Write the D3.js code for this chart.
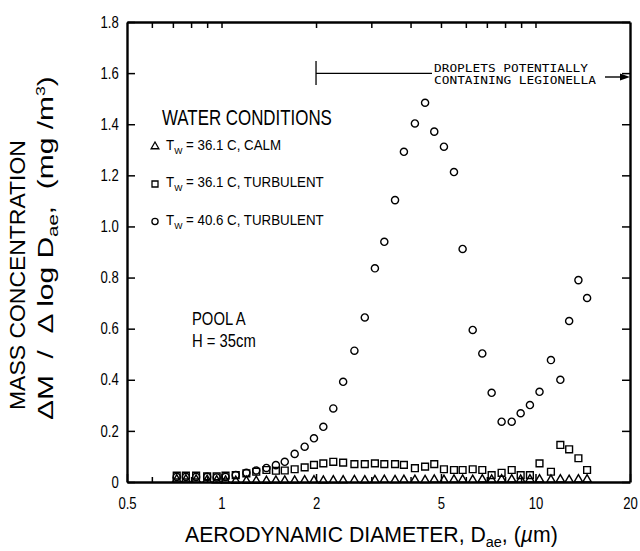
<!DOCTYPE html>
<html>
<head>
<meta charset="utf-8">
<script src="https://cdn.jsdelivr.net/npm/d3@7"></script>
<style>
body { margin: 0; background: #fff; }
svg { display: block; }
text { font-family: "Liberation Sans", Arial, sans-serif; fill: #000; }
.mono { font-family: "DejaVu Sans Mono", "Liberation Mono", monospace; }
</style>
</head>
<body>
<script>
// aerodynamic diameter of each impactor bin (um)
var diam = [0.72, 0.77, 0.83, 0.90, 0.965, 1.03, 1.11, 1.20, 1.29, 1.39, 1.49, 1.59, 1.71, 1.84,
  1.97, 2.11, 2.27, 2.44, 2.65, 2.86, 3.08, 3.30, 3.57, 3.81, 4.13, 4.45, 4.76, 5.11, 5.50, 5.86,
  6.31, 6.77, 7.25, 7.80, 8.40, 8.97, 9.60, 10.3, 11.2, 12.0, 12.8, 13.7, 14.6];

// Tw = 36.1 C, calm (triangles)
var calm361 = [0.010, 0.010, 0.009, 0.008, 0.006, 0.005, 0.004, 0.004, 0.004, 0.004, 0.005, 0.005, 0.005, 0.006,
  0.006, 0.005, 0.006, 0.006, 0.007, 0.006, 0.007, 0.008, 0.007, 0.008, 0.008, 0.007, 0.009, 0.008, 0.009, 0.009,
  0.008, 0.010, 0.009, 0.010, 0.010, 0.009, 0.010, 0.010, 0.009, 0.010, 0.008, 0.010, 0.010];

// Tw = 36.1 C, turbulent (squares)
var turb361 = [0.025, 0.025, 0.025, 0.022, 0.022, 0.025, 0.027, 0.034, 0.040, 0.047, 0.044, 0.045, 0.050, 0.057,
  0.067, 0.073, 0.079, 0.076, 0.070, 0.070, 0.073, 0.070, 0.070, 0.067, 0.054, 0.060, 0.070, 0.050, 0.047, 0.047,
  0.050, 0.047, 0.027, 0.036, 0.047, 0.027, 0.027, 0.073, 0.040, 0.145, 0.128, 0.093, 0.047];

// Tw = 40.6 C, turbulent (circles)
var turb406 = [0.020, 0.020, 0.020, 0.020, 0.018, 0.020, 0.027, 0.036, 0.045, 0.055, 0.066, 0.079, 0.110, 0.138,
  0.171, 0.216, 0.288, 0.392, 0.514, 0.644, 0.836, 0.940, 1.103, 1.292, 1.403, 1.484, 1.371, 1.312, 1.213, 0.912,
  0.595, 0.503, 0.349, 0.236, 0.236, 0.269, 0.301, 0.353, 0.477, 0.400, 0.630, 0.790, 0.720];

var yTicks = [0, 0.2, 0.4, 0.6, 0.8, 1.0, 1.2, 1.4, 1.6, 1.8];
var xTicks = [0.5, 1, 2, 5, 10, 20];
var xMinor = [0.6, 0.7, 0.8, 0.9, 3, 4, 6, 7, 8, 9];
var legendLabels = ["36.1 C, CALM", "36.1 C, TURBULENT", "40.6 C, TURBULENT"];

var width = 640, height = 551;
var NARROW = 0.8;

var svg = d3.select("body").append("svg")
    .attr("width", width)
    .attr("height", height);

svg.append("rect").attr("width", width).attr("height", height).attr("fill", "#fff");

var x = d3.scaleLog().domain([0.5, 20]).range([127, 630]);
var y = d3.scaleLinear().domain([0, 1.8]).range([482, 22]);

// squeeze a start-anchored text to a given width
function squeeze(sel, target) {
    var w = sel.node().getBBox().width;
    var k = target / w;
    var x0 = +sel.attr("x") || 0;
    sel.attr("transform", "translate(" + (x0 * (1 - k)) + ",0) scale(" + k + ",1)");
    return k;
}

function styleAxis(g) {
    g.attr("font-size", null).attr("font-family", null);
    g.selectAll(".domain").attr("stroke-width", 2.4);
    g.selectAll(".tick line").attr("stroke-width", 1.5);
    g.selectAll(".tick text").style("font-size", "16px").attr("transform", "scale(" + 0.82 + ",1)");
}

//axes
var gLeft = svg.append("g")
    .attr("transform", "translate(127,0)")
    .call(d3.axisLeft(y).tickValues(yTicks)
        .tickFormat(function (d) { return d === 0 ? "0" : d3.format(".1f")(d); })
        .tickSizeInner(-8).tickSizeOuter(0).tickPadding(10))
    .call(styleAxis);

var gBottom = svg.append("g")
    .attr("transform", "translate(0,482)")
    .call(d3.axisBottom(x).tickValues(xTicks)
        .tickFormat(function (d) { return String(d); })
        .tickSizeInner(-8).tickSizeOuter(0).tickPadding(16))
    .call(styleAxis);

svg.append("g")
    .attr("transform", "translate(0,482)")
    .call(d3.axisBottom(x).tickValues(xMinor).tickFormat("").tickSizeInner(-5).tickSizeOuter(0))
    .call(styleAxis)
    .select(".domain").remove();

svg.append("g")
    .attr("transform", "translate(0,22)")
    .call(d3.axisTop(x).tickValues(xMinor.concat([1, 2, 5, 10])).tickFormat("").tickSizeInner(-6).tickSizeOuter(0))
    .call(styleAxis);

svg.append("g")
    .attr("transform", "translate(630,0)")
    .call(d3.axisRight(y).tickValues(yTicks).tickFormat("").tickSizeInner(-8).tickSizeOuter(0))
    .call(styleAxis);

//data markers
var series = [
    {vals: turb361, type: d3.symbolSquare, size: 46},
    {vals: calm361, type: d3.symbolTriangle, size: 30},
    {vals: turb406, type: d3.symbolCircle, size: 40}
];

series.forEach(function (s) {
    svg.append("g")
        .selectAll("path")
        .data(diam.map(function (d, i) { return [d, s.vals[i]]; }))
        .enter()
        .append("path")
        .attr("d", d3.symbol().type(s.type).size(s.size))
        .attr("transform", function (d) { return "translate(" + x(d[0]) + "," + y(d[1]) + ")"; })
        .attr("fill", "none")
        .attr("stroke", "#000")
        .attr("stroke-width", 1.4);
});

//legend
var leg = svg.append("g");
var legTitle = leg.append("text").attr("x", 162).attr("y", 125)
    .style("font-size", "21.5px").text("WATER CONDITIONS");
squeeze(legTitle, 170);

var legTypes = [d3.symbolTriangle, d3.symbolSquare, d3.symbolCircle];
var legSizes = [26, 36, 30];
var legItems = [];
legendLabels.forEach(function (lab, i) {
    var by = 150 + i * 37.5;
    leg.append("path")
        .attr("d", d3.symbol().type(legTypes[i]).size(legSizes[i]))
        .attr("transform", "translate(155," + (by - 3.5) + ")")
        .attr("fill", "none").attr("stroke", "#000").attr("stroke-width", 1.3);
    var t = leg.append("text").attr("x", 166).attr("y", by).style("font-size", "14.5px");
    t.append("tspan").text("T");
    t.append("tspan").attr("dy", 4).style("font-size", "9.5px").text("W");
    t.append("tspan").attr("dy", -4).text(" = " + lab);
    legItems.push(t);
});
var kLeg = 158 / legItems[1].node().getBBox().width;
legItems.forEach(function (t) {
    t.attr("transform", "translate(" + (166 * (1 - kLeg)) + ",0) scale(" + kLeg + ",1)");
});

//pool label
var pool1 = svg.append("text").attr("x", 192).attr("y", 325).style("font-size", "18.5px").text("POOL A");
var pool2 = svg.append("text").attr("x", 192).attr("y", 347).style("font-size", "18.5px").text("H = 35cm");
[pool1, pool2].forEach(function (t) {
    t.attr("transform", "translate(" + (192 * (1 - NARROW)) + ",0) scale(" + NARROW + ",1)");
});

//legionella range annotation
var ann = svg.append("g").attr("stroke", "#000");
ann.append("line").attr("x1", x(2)).attr("x2", x(2)).attr("y1", 61).attr("y2", 85).attr("stroke-width", 1.3);
ann.append("line").attr("x1", x(2)).attr("x2", 432).attr("y1", 73.3).attr("y2", 73.3).attr("stroke-width", 1.2);
ann.append("line").attr("x1", 605).attr("x2", 622).attr("y1", 77).attr("y2", 77).attr("stroke-width", 1.4);
ann.append("path").attr("d", "M620,73.5L630,77L620,80.5Z").attr("fill", "#000").attr("stroke", "none");

svg.append("text").attr("class", "mono").attr("x", 434).attr("y", 71.6)
    .style("font-size", "10px").attr("textLength", 154).attr("lengthAdjust", "spacingAndGlyphs")
    .text("DROPLETS POTENTIALLY");
svg.append("text").attr("class", "mono").attr("x", 434).attr("y", 83.6)
    .style("font-size", "10px").attr("textLength", 162).attr("lengthAdjust", "spacingAndGlyphs")
    .text("CONTAINING LEGIONELLA");

//x axis title
var xt = svg.append("text").attr("x", 185).attr("y", 541.7).style("font-size", "22px");
xt.append("tspan").text("AERODYNAMIC DIAMETER, D");
xt.append("tspan").attr("dy", 5).style("font-size", "15px").text("ae");
xt.append("tspan").attr("dy", -5).text(", (");
xt.append("tspan").style("font-style", "italic").text("\u00b5");
xt.append("tspan").text("m)");
squeeze(xt, 373);

//y axis title, two rotated lines
var yt1g = svg.append("g").attr("transform", "translate(25,410) rotate(-90)");
var yt1 = yt1g.append("text").attr("x", 0).attr("y", 0).style("font-size", "22px").text("MASS CONCENTRATION");
squeeze(yt1, 270);

var yt2g = svg.append("g").attr("transform", "translate(53,420) rotate(-90)");
var yt2 = yt2g.append("text").attr("x", 0).attr("y", 0).style("font-size", "22px").style("white-space", "pre");
yt2.append("tspan").text("\u0394M  /  \u0394 log D");
yt2.append("tspan").attr("dy", 5).style("font-size", "15px").text("ae");
yt2.append("tspan").attr("dy", -5).text(",  (mg /m");
yt2.append("tspan").attr("dy", -8).style("font-size", "13px").text("3");
yt2.append("tspan").attr("dy", 8).text(")");
squeeze(yt2, 344);
</script>
</body>
</html>
